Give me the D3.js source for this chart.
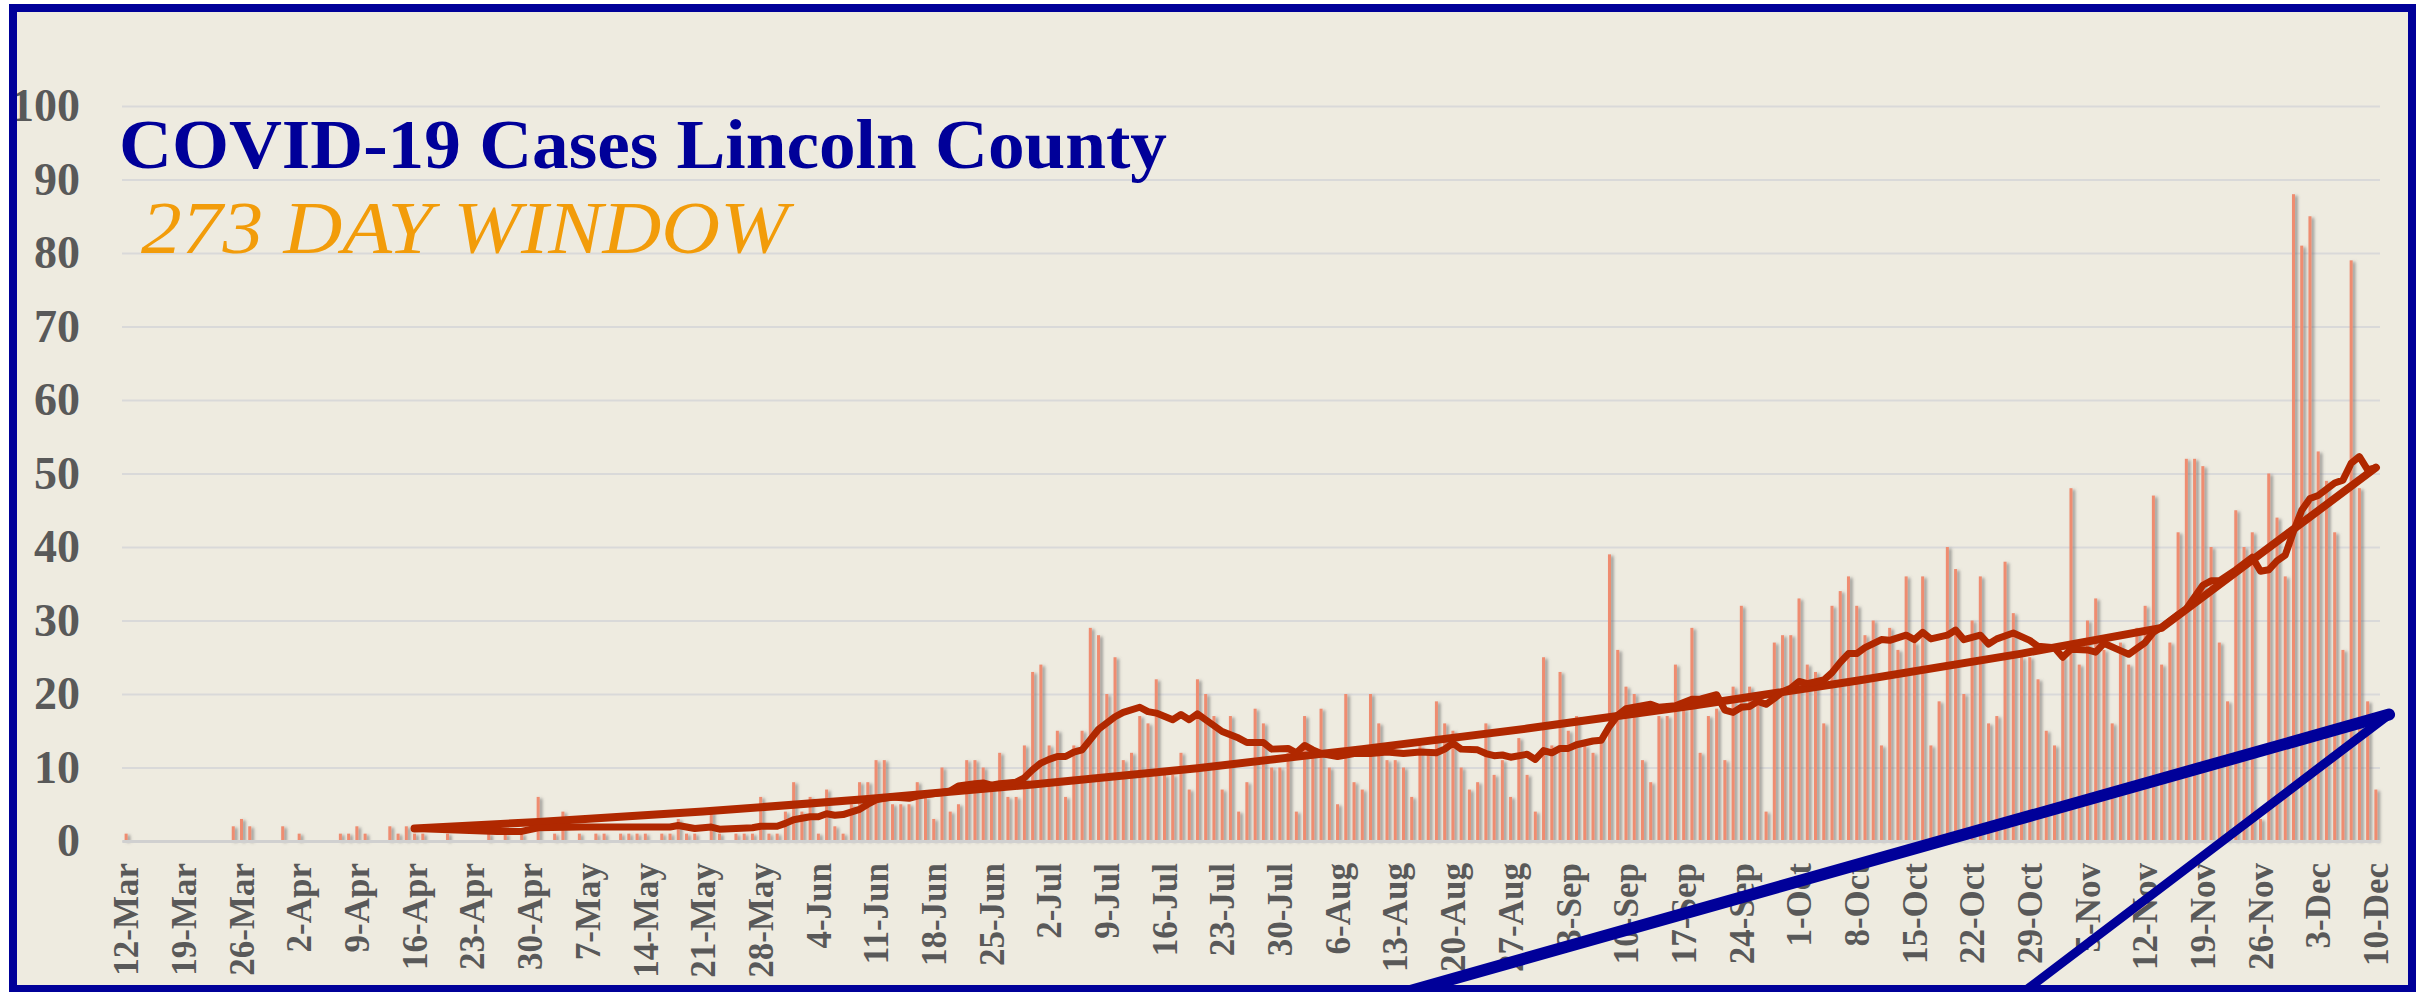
<!DOCTYPE html>
<html>
<head>
<meta charset="utf-8">
<script src="https://cdn.jsdelivr.net/npm/d3@7"></script>
<style>
  body { margin: 0; background: #ffffff; }
  svg { display: block; }
</style>
</head>
<body>
<div id="chart"></div>
<script>
// daily new cases, 12-Mar .. 10-Dec (274 days)
const cases = [
  1,0,0,0,0,0,0,0,0,0,   0,0,0,2,3,2,0,0,0,2,
  0,1,0,0,0,0,1,1,2,1,   0,0,2,1,2,1,1,0,0,1,
  0,0,0,0,1,0,1,0,1,0,   6,0,1,4,0,1,0,1,1,0,
  1,1,1,1,0,1,1,3,1,1,   0,4,1,0,1,1,1,6,1,1,
  4,8,4,6,1,7,2,1,5,8,   8,11,11,5,5,5,8,6,3,10,
  4,5,11,11,10,8,12,6,6,13, 23,24,13,15,6,13,15,29,28,20,
  25,11,12,17,16,22,9,9,12,7, 22,20,17,7,17,4,8,18,16,10,
  10,12,4,17,12,18,10,5,20,8, 7,20,16,11,11,10,6,13,12,19,
  16,15,10,7,8,16,9,11,6,14, 9,4,25,13,23,15,17,13,12,14,
  39,26,21,20,11,8,17,17,24,18, 29,12,17,18,11,21,32,21,20,4,
  27,28,28,33,24,23,16,32,34,36, 32,28,30,13,29,26,36,27,36,13,
  19,40,37,20,30,36,16,17,38,31, 25,25,22,15,13,25,48,24,30,33,
  26,16,27,24,29,32,47,24,27,42, 52,52,51,40,27,19,45,40,42,3,
  50,44,36,88,81,85,53,49,42,26, 79,48,19,7
];

// moving average line: [day index, value]
const movingAvg = [
  [35,1.7],[40,1.5],[45,1.3],[48,1.3],[50,1.8],[55,1.9],[60,1.9],[66,1.9],[67,2.1],[69,1.7],
  [71,1.9],[72,1.6],[76,1.8],[77,2.0],[79,2.0],[80,2.4],[81,2.9],[83,3.3],[84,3.3],[85,3.7],
  [86,3.5],[87,3.6],[89,4.3],[90,5.0],[91,5.6],[92,5.8],[93,6.0],[95,5.8],[96,6.1],[97,6.3],
  [99,6.6],[100,6.8],[101,7.5],[103,7.8],[104,7.9],[105,7.6],[106,7.8],[108,8.0],[109,8.6],[110,9.7],
  [111,10.6],[112,11.1],[113,11.5],[114,11.5],[115,12.1],[116,12.4],[117,13.8],[118,15.2],[120,16.9],[121,17.5],
  [123,18.2],[124,17.6],[125,17.4],[127,16.5],[128,17.2],[129,16.5],[130,17.3],[131,16.5],[133,14.9],[135,14.0],
  [136,13.4],[138,13.4],[139,12.5],[141,12.6],[142,12.0],[143,13.0],[144,12.4],[145,11.9],[147,11.5],[149,11.9],
  [151,11.9],[153,12.1],[155,11.9],[157,12.1],[159,12.0],[160,12.5],[161,13.3],[162,12.5],[164,12.4],[165,11.9],
  [166,11.6],[167,11.7],[168,11.4],[170,11.8],[171,11.1],[172,12.3],[173,12.0],[174,12.6],[175,12.6],[176,13.1],
  [178,13.6],[179,13.7],[180,15.6],[181,17.1],[182,18.0],[184,18.4],[185,18.6],[186,18.2],[188,18.4],[190,19.3],
  [191,19.3],[193,19.9],[194,17.8],[195,17.5],[196,18.2],[197,18.3],[198,19.0],[199,18.6],[200,19.4],[201,20.3],
  [202,20.8],[203,21.7],[204,21.4],[206,21.9],[207,22.9],[208,24.3],[209,25.5],[210,25.5],[211,26.3],[213,27.4],
  [214,27.3],[216,28.0],[217,27.4],[218,28.4],[219,27.5],[221,28.0],[222,28.7],[223,27.4],[225,28.0],[226,26.8],
  [227,27.5],[229,28.3],[231,27.3],[232,26.5],[234,26.3],[235,25.0],[236,26.1],[238,26.0],[239,25.7],[240,26.9],
  [242,25.9],[243,25.4],[244,26.2],[245,27.0],[246,28.4],[247,29.1],[249,30.8],[250,31.6],[252,34.8],[253,35.4],
  [254,35.4],[256,36.9],[258,38.6],[259,36.7],[260,36.9],[261,38.1],[262,38.9],[263,42.1],[264,45.0],[265,46.6],
  [266,47.0],[268,48.7],[269,49.1],[270,51.4],[271,52.3],[272,50.5],[273,50.8]
];

// trend line
const trend = [
  [35,1.7],[50,2.6],[70,4.0],[90,5.7],[110,7.7],[130,9.9],[150,12.5],
  [170,15.3],[190,18.4],[210,21.8],[230,25.5],[247,29.0],[273,50.8]
];

// blue callout lines going off the bottom: [day index, value]
const calloutWide = [[155.5,-20.5],[274.6,17.2]];
const calloutThin = [[274.6,17.2],[230.3,-20.5]];

const yTicks = [0,10,20,30,40,50,60,70,80,90,100];
const tickLabels = ["12-Mar","19-Mar","26-Mar","2-Apr","9-Apr","16-Apr","23-Apr","30-Apr",
  "7-May","14-May","21-May","28-May","4-Jun","11-Jun","18-Jun","25-Jun","2-Jul","9-Jul",
  "16-Jul","23-Jul","30-Jul","6-Aug","13-Aug","20-Aug","27-Aug","3-Sep","10-Sep","17-Sep",
  "24-Sep","1-Oct","8-Oct","15-Oct","22-Oct","29-Oct","5-Nov","12-Nov","19-Nov","26-Nov",
  "3-Dec","10-Dec"];

const fmt = d3.timeFormat("%-d-%b");
const days = d3.timeDay.range(new Date(2020, 2, 12), new Date(2020, 11, 11)).map(fmt);

const width = 2428, height = 992;
const plot = { left: 122, right: 2380, top: 106, bottom: 841 };
const frame = { x: 13, y: 8, w: 2399, h: 981 };

const svg = d3.select("#chart").append("svg")
  .attr("width", width)
  .attr("height", height);

const defs = svg.append("defs");
defs.append("filter").attr("id", "shadow")
  .attr("x", "-5%").attr("y", "-5%").attr("width", "110%").attr("height", "110%")
  .append("feDropShadow")
  .attr("dx", 2.5).attr("dy", 1.5).attr("stdDeviation", 1.6)
  .attr("flood-color", "#6f6f6f").attr("flood-opacity", 0.75);
defs.append("clipPath").attr("id", "frameClip")
  .append("rect").attr("x", frame.x).attr("y", frame.y).attr("width", frame.w).attr("height", frame.h);

// background
svg.append("rect")
  .attr("x", frame.x).attr("y", frame.y).attr("width", frame.w).attr("height", frame.h)
  .attr("fill", "#eeebe0");

const x = d3.scaleBand().domain(days).range([plot.left, plot.right]).paddingInner(0);
const xi = d3.scaleLinear().domain([-0.5, days.length - 0.5]).range([plot.left, plot.right]);
const y = d3.scaleLinear().domain([0, 100]).range([plot.bottom, plot.top]);

// y axis + gridlines
const yAxis = svg.append("g")
  .attr("transform", `translate(${plot.left},0)`)
  .call(d3.axisLeft(y).tickValues(yTicks).tickSize(-(plot.right - plot.left)).tickPadding(42));
yAxis.select(".domain").remove();
yAxis.selectAll(".tick line").attr("stroke", "#d9d9d9").attr("stroke-width", 2);
yAxis.selectAll(".tick text")
  .attr("fill", "#595959")
  .style("font-family", "'Liberation Serif', 'DejaVu Serif', serif")
  .style("font-weight", "bold")
  .style("font-size", "46px");

// bars
svg.append("g").attr("filter", "url(#shadow)")
  .selectAll("rect")
  .data(cases)
  .join("rect")
  .attr("x", (d, i) => x(days[i]) + x.bandwidth() / 2 - 1.5)
  .attr("width", 3)
  .attr("y", d => y(d))
  .attr("height", d => y(0) - y(d))
  .attr("fill", "#ef8c70");

// x axis
const xAxis = svg.append("g")
  .attr("transform", `translate(0,${plot.bottom})`)
  .call(d3.axisBottom(x).tickValues(tickLabels).tickSize(0).tickPadding(0));
xAxis.select(".domain").attr("stroke", "#d0d0d0").attr("stroke-width", 3);
xAxis.selectAll(".tick text")
  .attr("fill", "#595959")
  .attr("transform", "rotate(-90)")
  .attr("text-anchor", "end")
  .attr("x", -22)
  .attr("y", 0)
  .attr("dy", "0.35em")
  .style("font-family", "'Liberation Serif', 'DejaVu Serif', serif")
  .style("font-weight", "bold")
  .style("font-size", "35px");

// trend + moving average
const line = d3.line().x(d => xi(d[0])).y(d => y(d[1]));
svg.append("path").datum(trend)
  .attr("fill", "none").attr("stroke", "#b02800").attr("stroke-width", 8)
  .attr("stroke-linecap", "round").attr("stroke-linejoin", "round")
  .attr("d", line);
svg.append("path").datum(movingAvg)
  .attr("fill", "none").attr("stroke", "#b02800").attr("stroke-width", 7)
  .attr("stroke-linecap", "round").attr("stroke-linejoin", "round")
  .attr("d", line);

// blue callout
const callout = svg.append("g").attr("clip-path", "url(#frameClip)");
callout.append("path").datum(calloutWide)
  .attr("fill", "none").attr("stroke", "#000099").attr("stroke-width", 12)
  .attr("stroke-linecap", "round").attr("d", line);
callout.append("path").datum(calloutThin)
  .attr("fill", "none").attr("stroke", "#000099").attr("stroke-width", 9)
  .attr("stroke-linecap", "round").attr("d", line);

// titles
svg.append("text")
  .attr("x", 119).attr("y", 168)
  .attr("textLength", 1048).attr("lengthAdjust", "spacingAndGlyphs")
  .attr("fill", "#000099")
  .style("font-family", "'Liberation Serif', 'DejaVu Serif', serif")
  .style("font-weight", "bold")
  .style("font-size", "70px")
  .text("COVID-19 Cases Lincoln County");
svg.append("text")
  .attr("x", 141).attr("y", 253)
  .attr("textLength", 647).attr("lengthAdjust", "spacingAndGlyphs")
  .attr("fill", "#f29c0a")
  .style("font-family", "'Liberation Serif', 'DejaVu Serif', serif")
  .style("font-style", "italic")
  .style("font-size", "75px")
  .text("273 DAY WINDOW");

// frame
svg.append("rect")
  .attr("x", frame.x).attr("y", frame.y).attr("width", frame.w).attr("height", frame.h)
  .attr("fill", "none").attr("stroke", "#000099").attr("stroke-width", 8);
</script>
</body>
</html>
